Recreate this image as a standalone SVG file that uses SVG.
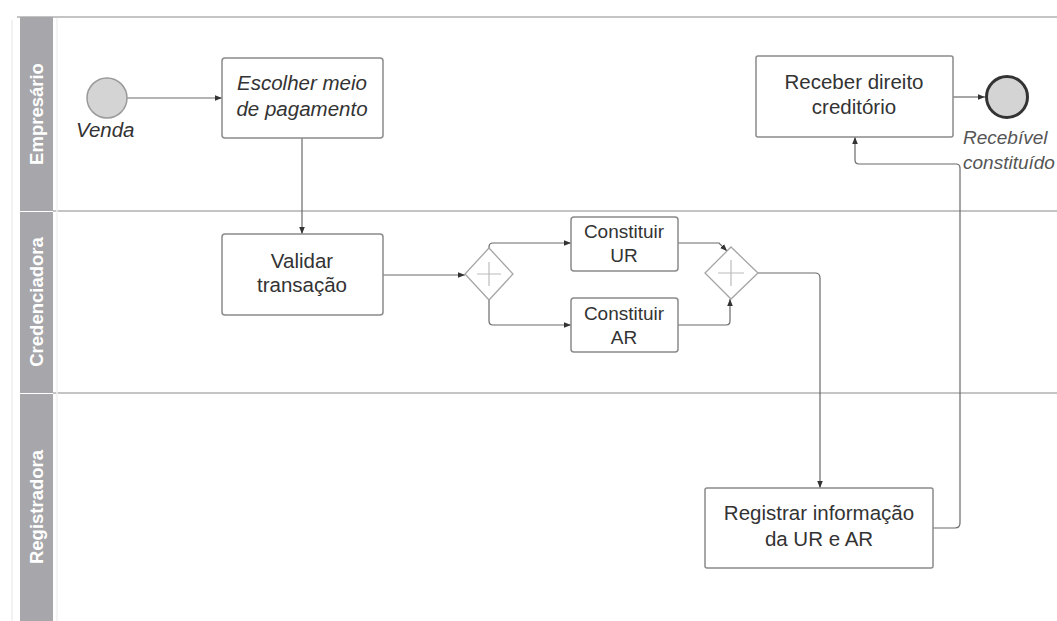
<svg xmlns="http://www.w3.org/2000/svg" width="1057" height="621" viewBox="0 0 1057 621">
<style>
.lane-hdr{fill:#a7a7ab}
.lane-lbl{font-family:"Liberation Sans",Arial,sans-serif;font-size:18.5px;font-weight:bold;fill:#ffffff;text-anchor:middle}
.div{stroke:#c4c4c4;stroke-width:2;fill:none}
.task{fill:#ffffff;stroke:#8a8a8a;stroke-width:1.5}
.t{font-family:"Liberation Sans",Arial,sans-serif;font-size:20.5px;fill:#333333;text-anchor:middle}
.s{font-size:19px}
.it{font-style:italic}
.gw{fill:#ffffff;stroke:#a5a5a5;stroke-width:1.3}
.gwx{stroke:#bcbcbc;stroke-width:1.2}
.conn{fill:none;stroke:#6a6a6a;stroke-width:1.2;marker-end:url(#arr)}
</style>
<defs>
<marker id="arr" viewBox="0 0 10 10" refX="10" refY="5" markerWidth="7" markerHeight="7" markerUnits="userSpaceOnUse" orient="auto">
<path d="M0,1 L10,5 L0,9 z" fill="#333333"/>
</marker>
</defs>
<rect width="1057" height="621" fill="#ffffff"/>
<g id="pool">
<line x1="12" y1="20" x2="12" y2="621" stroke="#eeeeee" stroke-width="1.5"/>
<line x1="17" y1="17" x2="1057" y2="17" class="div"/>
<line x1="53" y1="211" x2="1057" y2="211" class="div"/>
<line x1="53" y1="393" x2="1057" y2="393" class="div"/>
<line x1="57" y1="18" x2="57" y2="621" stroke="#f0f0f0" stroke-width="1.5"/>
</g>
<g id="lane-empresario">
<rect x="20" y="17" width="33" height="194" class="lane-hdr"/>
<text class="lane-lbl" transform="translate(43,114) rotate(-90)">Empresário</text>
</g>
<g id="lane-credenciadora">
<rect x="20" y="212" width="33" height="181" class="lane-hdr"/>
<text class="lane-lbl" transform="translate(43,302) rotate(-90)">Credenciadora</text>
</g>
<g id="lane-registradora">
<rect x="20" y="394" width="33" height="227" class="lane-hdr"/>
<text class="lane-lbl" transform="translate(43,507) rotate(-90)">Registradora</text>
</g>
<g id="connectors">
<path class="conn" d="M127,98 H222"/>
<path class="conn" d="M302,138 V234"/>
<path class="conn" d="M383,275 H465"/>
<path class="conn" d="M489,248 V247 Q489,243 493,243 H571"/>
<path class="conn" d="M489,300 V321 Q489,325 493,325 H571"/>
<path class="conn" d="M678,243 H719 L727,251"/>
<path class="conn" d="M678,325 H726 Q730,325 730,321 V299"/>
<path class="conn" d="M758,273 H815 Q820,273 820,278 V488"/>
<path class="conn" d="M933,528 H955 Q960,528 960,523 V168 Q960,164 956,164 H859 Q855,164 855,160 V137"/>
<path class="conn" d="M953,97 H985"/>
</g>
<g id="start">
<circle cx="107" cy="98" r="20" fill="#d4d4d4" stroke="#9a9a9a" stroke-width="1.5"/>
<text class="t it" x="76" y="137" style="text-anchor:start">Venda</text>
</g>
<g id="escolher">
<rect x="222" y="58" width="161" height="80" rx="3" class="task"/>
<text class="t it" x="302" y="90">Escolher meio</text>
<text class="t it" x="302" y="116">de pagamento</text>
</g>
<g id="validar">
<rect x="222" y="234" width="161" height="81" rx="3" class="task"/>
<text class="t" x="302" y="268">Validar</text>
<text class="t" x="302" y="292">transação</text>
</g>
<g id="gateway1">
<path d="M489,248 L513,274 L489,300 L465,274 Z" class="gw"/>
<path d="M489,262 V286 M477,274 H501" class="gwx"/>
</g>
<g id="constituir-ur">
<rect x="571" y="217" width="107" height="54" rx="3" class="task"/>
<text class="t s" x="624" y="238">Constituir</text>
<text class="t s" x="624" y="262">UR</text>
</g>
<g id="constituir-ar">
<rect x="571" y="298" width="107" height="54" rx="3" class="task"/>
<text class="t s" x="624" y="320">Constituir</text>
<text class="t s" x="624" y="344">AR</text>
</g>
<g id="gateway2">
<path d="M731,247 L758,273 L731,299 L705,273 Z" class="gw"/>
<path d="M731,260 V286 M718,273 H744" class="gwx"/>
</g>
<g id="registrar">
<rect x="705" y="488" width="228" height="80" rx="2" class="task"/>
<text class="t" x="819" y="520">Registrar informação</text>
<text class="t" x="819" y="546">da UR e AR</text>
</g>
<g id="receber">
<rect x="756" y="56" width="197" height="81" rx="2" class="task"/>
<text class="t" x="854" y="89">Receber direito</text>
<text class="t" x="854" y="114">creditório</text>
</g>
<g id="end">
<circle cx="1007" cy="97" r="20.5" fill="#d4d4d4" stroke="#333333" stroke-width="3"/>
<text class="t it s" x="963" y="144" style="text-anchor:start;fill:#555555">Recebível</text>
<text class="t it s" x="963" y="169" style="text-anchor:start;fill:#555555">constituído</text>
</g>
</svg>
